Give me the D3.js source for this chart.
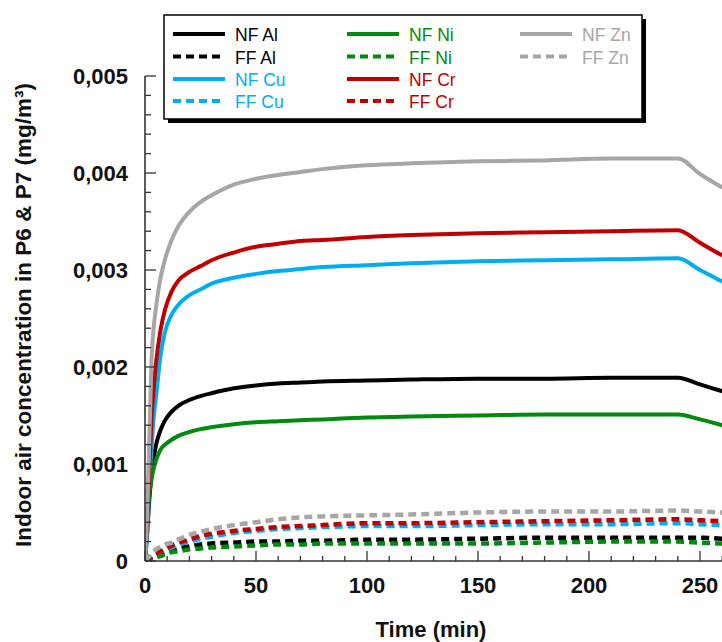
<!DOCTYPE html>
<html><head><meta charset="utf-8">
<script src="https://cdn.jsdelivr.net/npm/d3@7"></script>
<style>body{margin:0;background:#fff;} svg{display:block;font-family:"Liberation Sans",Arial,sans-serif;}</style>
</head><body>
<script>
// ---- data ----
const timeNF = [0,1,2,3,4,5,7,9,12,15,20,25,30,40,50,60,70,80,100,120,150,180,210,240,250,260];
const timeFF = [0,2,5,7,9,12,15,20,25,30,40,50,60,70,80,100,120,150,180,210,240,250,260];

const nfAl = [0,0.0003,0.00065,0.0009,0.00107,0.0012,0.00135,0.00145,0.00154,0.0016,0.00166,0.0017,0.00173,0.00178,0.00181,0.00183,0.00184,0.00185,0.00186,0.00187,0.00188,0.00188,0.00189,0.00189,0.00182,0.00175];
const nfNi = [0,0.00045,0.0007,0.00085,0.00096,0.00104,0.00115,0.0012,0.00125,0.00129,0.00133,0.00136,0.00138,0.00141,0.00143,0.00144,0.00145,0.00146,0.00148,0.00149,0.0015,0.00151,0.00151,0.00151,0.00146,0.0014];
const nfCu = [0,0.0003,0.0008,0.0012,0.0015,0.0017,0.00212,0.00236,0.00254,0.00264,0.00274,0.0028,0.00286,0.00292,0.00296,0.00299,0.00301,0.00303,0.00305,0.00307,0.00309,0.0031,0.00311,0.00312,0.003,0.00288];
const nfCr = [0,0.0004,0.001,0.0015,0.0018,0.00205,0.00238,0.00259,0.00278,0.00289,0.00298,0.00304,0.0031,0.00318,0.00324,0.00327,0.0033,0.00331,0.00334,0.00336,0.00338,0.00339,0.0034,0.00341,0.00328,0.00315];
const nfZn = [0,0.0005,0.0013,0.0021,0.00243,0.00262,0.00292,0.00311,0.00331,0.00345,0.0036,0.0037,0.00377,0.00388,0.00394,0.00398,0.00401,0.00404,0.00408,0.0041,0.00412,0.00413,0.00415,0.00415,0.00399,0.00385];

const ffAl = [0,0.00002,0.00005,0.00007,0.00009,0.00011,0.00013,0.00015,0.00017,0.00018,0.00019,0.0002,0.0002,0.00021,0.00021,0.00022,0.00022,0.00023,0.00024,0.00024,0.00024,0.00024,0.00023];
const ffNi = [0,0.00002,0.00004,0.00005,0.00007,0.00009,0.0001,0.00012,0.00013,0.00014,0.00015,0.00016,0.00017,0.00017,0.00018,0.00018,0.00018,0.00018,0.00019,0.0002,0.0002,0.00019,0.00018];
const ffCu = [0,0.00003,0.00007,0.00009,0.00011,0.00014,0.00017,0.0002,0.00023,0.00025,0.00029,0.00031,0.00033,0.00034,0.00035,0.00036,0.00036,0.00037,0.00038,0.00038,0.00039,0.00038,0.00037];
const ffCr = [0,0.00003,0.00008,0.0001,0.00012,0.00016,0.00019,0.00022,0.00026,0.00028,0.00031,0.00033,0.00035,0.00036,0.00037,0.00039,0.00039,0.0004,0.00041,0.00042,0.00043,0.00042,0.00041];
const ffZn = [0,0.00005,0.00012,0.00015,0.00017,0.00019,0.00022,0.00027,0.0003,0.00033,0.00037,0.0004,0.00043,0.00045,0.00046,0.00047,0.00048,0.0005,0.00051,0.00051,0.00052,0.00051,0.0005];

const xTicks = [0,50,100,150,200,250];
const yTicks = [0,0.001,0.002,0.003,0.004,0.005];
const yTickLabels = ["0","0,001","0,002","0,003","0,004","0,005"];

const colors = {Al:"#000000", Cu:"#00aeef", Ni:"#008a0e", Cr:"#c00000", Zn:"#a6a6a6"};

const series = [
  {name:"NF Al", t:timeNF, v:nfAl, c:colors.Al, dash:false},
  {name:"FF Al", t:timeFF, v:ffAl, c:colors.Al, dash:true},
  {name:"NF Cu", t:timeNF, v:nfCu, c:colors.Cu, dash:false},
  {name:"FF Cu", t:timeFF, v:ffCu, c:colors.Cu, dash:true},
  {name:"NF Ni", t:timeNF, v:nfNi, c:colors.Ni, dash:false},
  {name:"FF Ni", t:timeFF, v:ffNi, c:colors.Ni, dash:true},
  {name:"NF Cr", t:timeNF, v:nfCr, c:colors.Cr, dash:false},
  {name:"FF Cr", t:timeFF, v:ffCr, c:colors.Cr, dash:true},
  {name:"NF Zn", t:timeNF, v:nfZn, c:colors.Zn, dash:false},
  {name:"FF Zn", t:timeFF, v:ffZn, c:colors.Zn, dash:true}
];
const legendOrder = [["NF Al","FF Al","NF Cu","FF Cu"],["NF Ni","FF Ni","NF Cr","FF Cr"],["NF Zn","FF Zn"]];

// ---- chart ----
const W = 722, H = 642;
const svg = d3.select("body").append("svg").attr("width", W).attr("height", H);
const x = d3.scaleLinear().domain([0, 260]).range([145, 722.2]);
const y = d3.scaleLinear().domain([0, 0.005]).range([561, 76]);

svg.append("defs").append("clipPath").attr("id","clip")
  .append("rect").attr("x",145).attr("y",0).attr("width",W-145).attr("height",561);

const line = d3.line().x(d => x(d[0])).y(d => y(d[1])).curve(d3.curveMonotoneX);
const gl = svg.append("g").attr("clip-path","url(#clip)");
series.forEach(s => {
  gl.append("path")
    .attr("d", line(s.t.map((t,i) => [t, s.v[i]])))
    .attr("fill","none").attr("stroke", s.c)
    .attr("stroke-width", s.dash ? 4.5 : 4)
    .attr("stroke-dasharray", s.dash ? "8,5" : null);
});

// axes
const axisColor = "#333";
const yMinor = d3.range(0, 0.0050001, 0.0002);
const xMinor = d3.range(0, 261, 10);
const ga = svg.append("g");
ga.append("line").attr("x1",145).attr("x2",145).attr("y1",y(0.005)).attr("y2",y(0)).attr("stroke",axisColor).attr("stroke-width",1.6);
ga.append("line").attr("x1",145).attr("x2",W).attr("y1",y(0)).attr("y2",y(0)).attr("stroke",axisColor).attr("stroke-width",1.6);
ga.selectAll(".ym").data(yMinor).enter().append("line")
  .attr("x1",145).attr("x2", d => 145 + (yTicks.some(t => Math.abs(t-d)<1e-9) ? 11 : 6))
  .attr("y1", d => y(d)).attr("y2", d => y(d)).attr("stroke",axisColor).attr("stroke-width",1.3);
ga.selectAll(".xm").data(xMinor).enter().append("line")
  .attr("y1", y(0)).attr("y2", d => y(0) - (d % 50 === 0 ? 10 : 5))
  .attr("x1", d => x(d)).attr("x2", d => x(d)).attr("stroke",axisColor).attr("stroke-width",1.3);

svg.selectAll(".yl").data(yTicks).enter().append("text")
  .attr("x",128).attr("y", d => y(d) + 7.5).attr("text-anchor","end")
  .attr("font-size",22).attr("font-weight","bold").attr("fill","#111")
  .text((d,i) => yTickLabels[i]);
svg.selectAll(".xl").data(xTicks).enter().append("text")
  .attr("x", d => x(d)).attr("y", 593).attr("text-anchor","middle")
  .attr("font-size",22).attr("font-weight","bold").attr("fill","#111")
  .text(d => d);

svg.append("text").attr("x",431).attr("y",637).attr("text-anchor","middle")
  .attr("font-size",22).attr("font-weight","bold").attr("fill","#111").text("Time (min)");
svg.append("text").attr("transform","translate(31,315) rotate(-90)").attr("text-anchor","middle")
  .attr("font-size",22.5).attr("font-weight","bold").attr("fill","#111")
  .text("Indoor air concentration in P6 & P7 (mg/m³)");

// legend
const lg = svg.append("g");
lg.append("rect").attr("x",168).attr("y",19).attr("width",478).attr("height",104).attr("fill","#000");
lg.append("rect").attr("x",164).attr("y",15).attr("width",478).attr("height",104).attr("fill","#fff").attr("stroke","#000").attr("stroke-width",1.5);
const colX = [173, 347, 520];
const rowY = [34, 56.5, 79, 101];
legendOrder.forEach((col, ci) => {
  col.forEach((name, ri) => {
    const s = series.find(d => d.name === name);
    lg.append("line").attr("x1",colX[ci]).attr("x2",colX[ci]+52).attr("y1",rowY[ri]).attr("y2",rowY[ri])
      .attr("stroke",s.c).attr("stroke-width",4).attr("stroke-dasharray", s.dash ? "8,5" : null);
    lg.append("text").attr("x",colX[ci]+62).attr("y",rowY[ri]+7).attr("font-size",17.5).attr("fill",s.c).text(name);
  });
});
</script>
</body></html>
